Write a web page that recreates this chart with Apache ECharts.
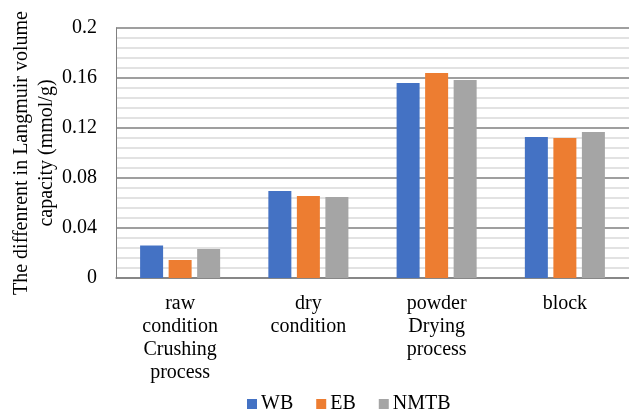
<!DOCTYPE html>
<html><head><meta charset="utf-8">
<script src="https://cdn.jsdelivr.net/npm/echarts@6/dist/echarts.min.js"></script>
<style>html,body{margin:0;padding:0;background:#fff}#c{width:629px;height:412px}</style>
</head><body><div id="c"></div>
<script>
var categories = ['raw\ncondition\nCrushing\nprocess', 'dry\ncondition', 'powder\nDrying\nprocess', 'block'];
var seriesNames = ['WB', 'EB', 'NMTB'];
var wb = [0.026, 0.0696, 0.156, 0.1128];
var eb = [0.0144, 0.0656, 0.164, 0.112];
var nmtb = [0.0232, 0.0648, 0.1584, 0.1168];
var yTicks = [0, 0.04, 0.08, 0.12, 0.16, 0.2];
var yTitle = 'The diffenrent in Langmuir volume\ncapacity (mmol/g)';
var colors = ['#4472C4', '#ED7D31', '#A5A5A5'];
var font = '"Liberation Serif", "Times New Roman", serif';
var chart = echarts.init(document.getElementById('c'));
var data = [wb, eb, nmtb];
chart.setOption({
  animation: false,
  textStyle: {fontFamily: font},
  grid: {left: 116, right: 0, top: 28, bottom: 134, containLabel: false, outerBoundsMode: 'none'},
  graphic: [{
    type: 'text', x: 34, y: 153, rotation: Math.PI / 2,
    style: {text: yTitle, fontFamily: font, fontSize: 20, lineHeight: 25, fill: '#000',
      align: 'center', verticalAlign: 'middle'}
  }],
  legend: {
    top: 389, left: 242,
    itemWidth: 10, itemHeight: 10, itemGap: 23,
    icon: 'rect',
    textStyle: {fontFamily: font, fontSize: 20, color: '#000', padding: [0, 0, 0, -1]},
    data: seriesNames
  },
  xAxis: {
    type: 'category', data: categories,
    axisLine: {lineStyle: {color: '#808080', width: 1.5}},
    axisTick: {show: false},
    axisLabel: {fontFamily: font, fontSize: 20, color: '#000', lineHeight: 23, margin: 14, interval: 0}
  },
  yAxis: {
    type: 'value', min: yTicks[0], max: yTicks[yTicks.length - 1], interval: 0.04,
    axisLine: {show: true, lineStyle: {color: '#808080', width: 1}},
    axisTick: {show: false},
    axisLabel: {fontFamily: font, fontSize: 20, color: '#000', margin: 19,
      formatter: function (v) { return String(parseFloat(v.toFixed(2))); }},
    splitLine: {lineStyle: {color: '#7f7f7f', width: 1.5}},
    minorTick: {show: false, splitNumber: 5},
    minorSplitLine: {show: true, lineStyle: {color: '#d9d9d9', width: 1.5}}
  },
  series: seriesNames.map(function (n, i) {
    return {name: n, type: 'bar', data: data[i], barWidth: 23, barGap: '24%',
      itemStyle: {color: colors[i]}};
  })
});
</script></body></html>
